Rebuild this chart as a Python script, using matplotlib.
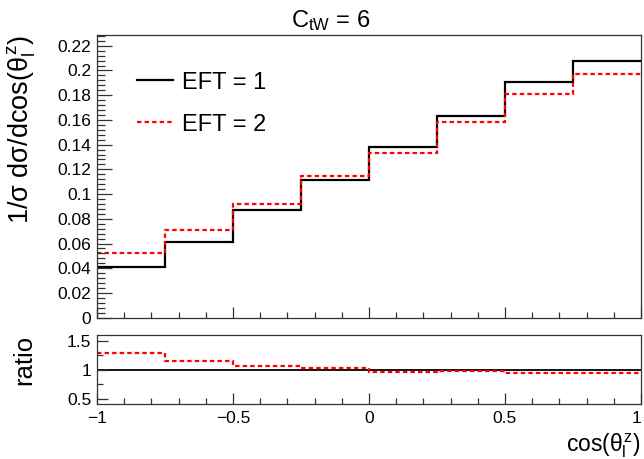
import numpy as np
import matplotlib
matplotlib.use('Agg')
import matplotlib.pyplot as plt
from matplotlib.ticker import MultipleLocator, NullFormatter

# --- DATA ---
bin_edges = [-1.0, -0.75, -0.5, -0.25, 0.0, 0.25, 0.5, 0.75, 1.0]
eft1 = [0.0408, 0.0615, 0.0870, 0.1115, 0.1385, 0.1628, 0.1910, 0.2079]
eft2 = [0.0526, 0.0710, 0.0918, 0.1150, 0.1336, 0.1587, 0.1810, 0.1968]
labels = ['EFT = 1', 'EFT = 2']

ratio1 = np.array(eft1) / np.array(eft1)
ratio2 = np.array(eft2) / np.array(eft1)

# --- STYLE ---
plt.rcParams['font.family'] = ['Liberation Sans', 'DejaVu Sans']
plt.rcParams['mathtext.fontset'] = 'custom'
plt.rcParams['mathtext.rm'] = 'Liberation Sans'
plt.rcParams['mathtext.it'] = 'Liberation Sans'
plt.rcParams['mathtext.bf'] = 'Liberation Sans:bold'

red_dash = (0, (2.0, 1.4))
tick_fs = 12.5

fig = plt.figure(figsize=(6.44, 4.59), dpi=100)
ax = fig.add_axes([0.1506, 0.3078, 0.8447, 0.6159])
rax = fig.add_axes([0.1506, 0.1192, 0.8447, 0.1510])

# main panel
ax.stairs(eft1, bin_edges, baseline=None, color='black', lw=1.6, label=labels[0])
ax.stairs(eft2, bin_edges, baseline=None, color='red', lw=1.6, ls=red_dash, label=labels[1])
ax.set_xlim(-1, 1)
ax.set_ylim(0, max(eft1) * 1.1)
ax.yaxis.set_major_locator(MultipleLocator(0.02))
ax.yaxis.set_minor_locator(MultipleLocator(0.004))
ax.xaxis.set_major_locator(MultipleLocator(0.5))
ax.xaxis.set_minor_locator(MultipleLocator(0.1))
ax.xaxis.set_major_formatter(NullFormatter())
ax.yaxis.set_major_formatter(matplotlib.ticker.FuncFormatter(lambda v, p: f'{v:g}'))
ax.set_ylabel(r'1/σ dσ/dcos($\theta_{l}^{z}$)', fontsize=19.5, loc='top')
ax.yaxis.set_label_coords(-0.108, 1.0)

leg = ax.legend(loc='upper left', bbox_to_anchor=(0.035, 0.946), frameon=False,
                fontsize=17, handlelength=1.5, handletextpad=0.4, labelspacing=0.85)

fig.text(0.514, 0.941, r'C$_{\mathrm{tW}}$ = 6', fontsize=17, ha='center', va='baseline')

# ratio panel
rax.stairs(ratio1, bin_edges, baseline=None, color='black', lw=1.3)
rax.stairs(ratio2, bin_edges, baseline=None, color='red', lw=1.6, ls=red_dash)
rax.set_xlim(-1, 1)
rax.set_ylim(0.4, 1.6)
rax.yaxis.set_major_locator(MultipleLocator(0.5))
rax.yaxis.set_minor_locator(MultipleLocator(0.25))
rax.xaxis.set_major_locator(MultipleLocator(0.5))
rax.xaxis.set_minor_locator(MultipleLocator(0.1))
rax.xaxis.set_major_formatter(matplotlib.ticker.FuncFormatter(lambda v, p: f'{v:g}'.replace('-', '\u2212')))
rax.yaxis.set_major_formatter(matplotlib.ticker.FuncFormatter(lambda v, p: f'{v:g}'))
rax.set_ylabel('ratio', fontsize=18.5, loc='top')
rax.yaxis.set_label_coords(-0.112, 1.0)
rax.set_xlabel(r'cos($\theta_{l}^{z}$)', fontsize=16.5, loc='right')

for a in (ax, rax):
    for s in a.spines.values():
        s.set_linewidth(0.9)
        s.set_color('#333333')
    a.tick_params(which='both', direction='in', top=False, right=False,
                  labelsize=tick_fs, color='#333333')
    a.tick_params(which='major', length=8, width=0.9, pad=4)
    a.tick_params(which='minor', length=4, width=0.9)
ax.tick_params(axis='y', which='major', length=11)
ax.tick_params(axis='y', which='minor', length=5.5)
rax.tick_params(axis='x', which='major', length=8)
rax.tick_params(axis='x', which='major', pad=5)

# keep the last x tick label inside the canvas
fig.canvas.draw()
for t in rax.get_xticklabels():
    if t.get_text() == '1':
        t.set_ha('right')

fig.savefig('out.png', dpi=100)
